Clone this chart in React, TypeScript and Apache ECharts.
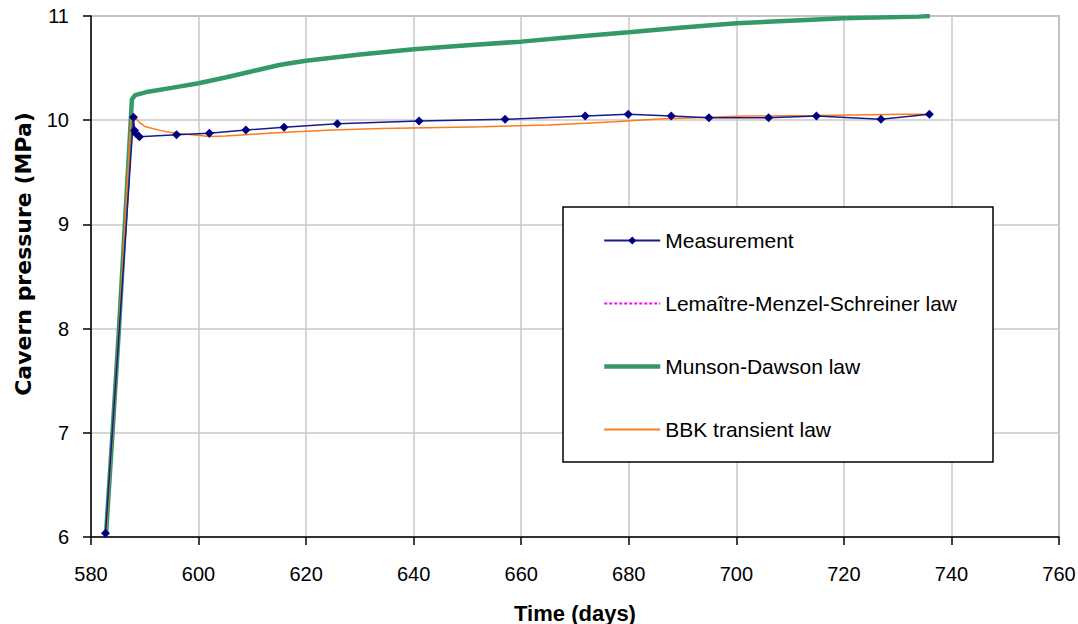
import React, { useEffect, useRef } from "react";
import * as echarts from "echarts";

const xTicks = { min: 580, max: 760, interval: 20 };
const yTicks = { min: 6, max: 11, interval: 1 };

const measurement: [number, number][] = [
  [582.7, 6.035], [587.9, 10.028], [588.1, 9.9], [588.3, 9.874], [589, 9.84],
  [595.9, 9.86], [602, 9.874], [608.8, 9.906], [615.9, 9.932], [625.8, 9.966],
  [641, 9.992], [657, 10.009], [671.9, 10.04], [679.9, 10.056], [687.9, 10.04],
  [694.9, 10.024], [706, 10.024], [714.9, 10.04], [726.9, 10.009], [735.9, 10.056],
];

const lemaitre: [number, number][] = [];

const munsonDawson: [number, number][] = [
  [582.8, 6.03], [584.0, 7.0], [585.2, 8.0], [586.3, 9.0], [587.4, 10.0],
  [587.6, 10.2], [588.2, 10.24], [590.3, 10.27], [595, 10.31], [600, 10.355],
  [605, 10.41], [610, 10.47], [615, 10.53], [617, 10.546], [620, 10.57], [630, 10.63],
  [640, 10.68], [650, 10.72], [660, 10.754], [670, 10.8], [680, 10.843],
  [690, 10.89], [700, 10.93], [710, 10.955], [719.8, 10.978], [734, 10.994],
  [736, 11.0],
];

const bbkTransient: [number, number][] = [
  [582.8, 6.03], [584.0, 7.0], [585.2, 8.0], [586.3, 9.0], [587.4, 10.0],
  [587.9, 10.04], [589, 9.98], [590, 9.94], [593, 9.9], [595.6, 9.875],
  [599.3, 9.858], [602, 9.843], [605, 9.848], [608, 9.858], [613, 9.875],
  [618, 9.89], [625, 9.906], [634, 9.92], [645, 9.93], [653, 9.938],
  [665, 9.954], [672, 9.97], [677.4, 9.986], [681.7, 10.0], [686.4, 10.015],
  [692.3, 10.024], [701.9, 10.04], [715, 10.045], [731, 10.056], [736, 10.056],
];

const seriesNames = [
  "Measurement",
  "Lemaître-Menzel-Schreiner law",
  "Munson-Dawson law",
  "BBK transient law",
];

const FONT = "Arial, 'Liberation Sans', sans-serif";

export default function App() {
  const ref = useRef<HTMLDivElement>(null);

  useEffect(() => {
    if (!ref.current) return;
    const chart = echarts.init(ref.current, undefined, { renderer: "svg" });
    chart.setOption({
      animation: false,
      backgroundColor: "#ffffff",
      grid: {
        left: 91,
        top: 16,
        right: 19,
        bottom: 87,
        containLabel: false,
        outerBoundsMode: "none",
        show: true,
        borderColor: "#999999",
        borderWidth: 1.5,
        backgroundColor: "transparent",
      },
      xAxis: {
        type: "value",
        min: xTicks.min,
        max: xTicks.max,
        interval: xTicks.interval,
        name: "Time (days)",
        nameLocation: "middle",
        nameGap: 65,
        nameTextStyle: { fontFamily: FONT, fontSize: 22, fontWeight: "bold", color: "#000" },
        axisLine: { show: true, onZero: false, lineStyle: { color: "#000", width: 1.5 } },
        axisTick: { show: true, inside: false, length: 8, lineStyle: { color: "#000", width: 1.5 } },
        axisLabel: { margin: 27, fontFamily: FONT, fontSize: 20, color: "#000" },
        splitLine: { show: true, lineStyle: { color: "#c8c8c8", width: 1.5 } },
      },
      yAxis: {
        type: "value",
        min: yTicks.min,
        max: yTicks.max,
        interval: yTicks.interval,
        axisLine: { show: true, onZero: false, lineStyle: { color: "#000", width: 1.5 } },
        axisTick: { show: true, inside: false, length: 8, lineStyle: { color: "#000", width: 1.5 } },
        axisLabel: { margin: 22, fontFamily: FONT, fontSize: 20, color: "#000" },
        splitLine: { show: true, lineStyle: { color: "#c8c8c8", width: 1.5 } },
      },
      legend: {
        orient: "vertical",
        left: 602,
        top: 230,
        padding: 0,
        itemWidth: 56,
        itemHeight: 10,
        itemGap: 42,
        z: 10,
        data: [
          { name: seriesNames[0] },
          { name: seriesNames[1], itemStyle: { opacity: 0 } },
          { name: seriesNames[2], itemStyle: { opacity: 0 }, lineStyle: { width: 4.5, color: "#339966" } },
          { name: seriesNames[3], itemStyle: { opacity: 0 } },
        ],
        textStyle: { fontFamily: FONT, fontSize: 21, color: "#000" },
        selectedMode: false,
      },
      graphic: [
        {
          type: "rect",
          shape: { x: 563, y: 207, width: 430, height: 255 },
          style: { fill: "#fff", stroke: "#000", lineWidth: 1.5 },
          z: 3,
        },
        {
          type: "text",
          x: 23,
          y: 254,
          rotation: Math.PI / 2,
          style: {
            text: "Cavern pressure (MPa)",
            fontFamily: "'DejaVu Sans', Arial, sans-serif",
            fontSize: 22,
            fontWeight: "bold",
            fill: "#000",
            align: "center",
            verticalAlign: "middle",
          },
        },
      ],
      series: [
        {
          name: seriesNames[0],
          type: "line",
          data: measurement,
          z: 4,
          symbol: "diamond",
          symbolSize: 9,
          showAllSymbol: true,
          itemStyle: { color: "#000080" },
          lineStyle: { color: "#1a1a8c", width: 1.5 },
        },
        {
          name: seriesNames[1],
          type: "line",
          data: lemaitre,
          z: 3,
          symbol: "none",
          itemStyle: { color: "#ff00ff" },
          lineStyle: { color: "#ff00ff", width: 1, type: [3, 2] },
        },
        {
          name: seriesNames[2],
          type: "line",
          data: munsonDawson,
          z: 2,
          symbol: "none",
          itemStyle: { color: "#339966" },
          lineStyle: { color: "#339966", width: 4.5 },
        },
        {
          name: seriesNames[3],
          type: "line",
          data: bbkTransient,
          z: 3,
          symbol: "none",
          itemStyle: { color: "#ff6600" },
          lineStyle: { color: "#ff7a1a", width: 1.5 },
        },
      ],
    });
    return () => chart.dispose();
  }, []);

  return (
    <div
      ref={ref}
      style={{ position: "absolute", left: 0, top: 0, width: 1078, height: 624 }}
    />
  );
}
